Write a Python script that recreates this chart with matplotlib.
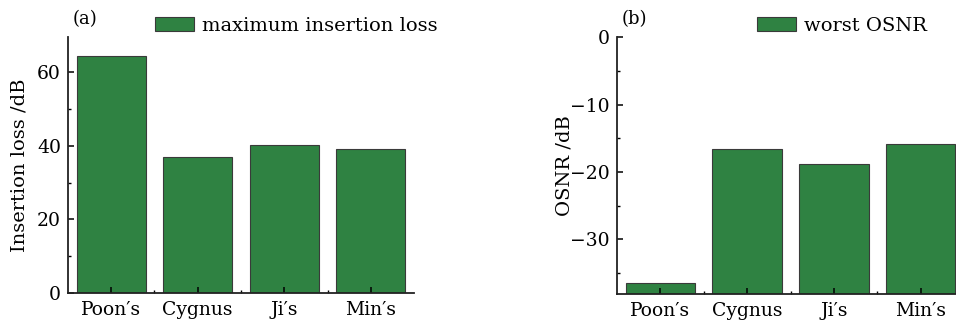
import matplotlib
matplotlib.use("Agg")
import matplotlib.pyplot as plt
from matplotlib.ticker import MultipleLocator, FixedLocator
import numpy as np

schemes = ["Poon\u2032s", "Cygnus", "Ji\u2032s", "Min\u2032s"]
insertion_loss = [64.3, 37.0, 40.1, 39.0]
worst_osnr = [-36.5, -16.6, -18.8, -15.9]

green = "#2f8242"
edge = "#3a3a3a"

plt.rcParams["font.family"] = ["DejaVu Serif"]
plt.rcParams["font.size"] = 12

fig = plt.figure(figsize=(9.56, 3.22), dpi=100)
ax1 = fig.add_axes([0.0711, 0.090, 0.362, 0.795])
ax2 = fig.add_axes([0.6454, 0.087, 0.3630, 0.797])

x = np.arange(len(schemes))


def style(ax):
    for s in ("top", "right"):
        ax.spines[s].set_visible(False)
    for s in ("left", "bottom"):
        ax.spines[s].set_linewidth(1.3)
        ax.spines[s].set_color("#222222")
    ax.set_xlim(-0.5, 3.5)
    ax.set_xticks(x)
    ax.set_xticklabels(schemes)
    ax.xaxis.set_minor_locator(FixedLocator([0.5, 1.5, 2.5]))
    ax.tick_params(which="major", direction="in", length=4, width=1.1, pad=5)
    ax.tick_params(which="minor", direction="in", length=2.5, width=1.0)
    ax.tick_params(axis="x", labelsize=13.5, pad=6)
    ax.tick_params(axis="y", labelsize=13.5)


legend_kw = dict(loc="upper left", frameon=False, fontsize=14,
                 handlelength=2.0, handleheight=0.75,
                 handletextpad=0.4, borderaxespad=0)

# (a) maximum insertion loss
ax1.bar(x, insertion_loss, width=0.8, color=green, edgecolor=edge,
        linewidth=0.8, label="maximum insertion loss")
style(ax1)
ax1.set_ylim(0, 69.5)
ax1.yaxis.set_major_locator(MultipleLocator(20))
ax1.yaxis.set_minor_locator(MultipleLocator(10))
ax1.set_ylabel("Insertion loss /dB", fontsize=14, labelpad=6)
ax1.legend(bbox_to_anchor=(0.23, 1.11), **legend_kw)
fig.text(0.076, 0.925, "(a)", fontsize=13)

# (b) worst OSNR, bars rise from the bottom of the range
osnr_floor = -38.1
ax2.bar(x, np.array(worst_osnr) - osnr_floor, width=0.8, bottom=osnr_floor,
        color=green, edgecolor=edge, linewidth=0.8, label="worst OSNR")
style(ax2)
ax2.set_ylim(osnr_floor, 0)
ax2.yaxis.set_major_locator(MultipleLocator(10))
ax2.yaxis.set_minor_locator(MultipleLocator(5))
ax2.set_ylabel("OSNR /dB", fontsize=14, labelpad=-2)
ax2.legend(bbox_to_anchor=(0.382, 1.11), **legend_kw)
fig.text(0.650, 0.925, "(b)", fontsize=13)

fig.savefig("out.png", dpi=100)
